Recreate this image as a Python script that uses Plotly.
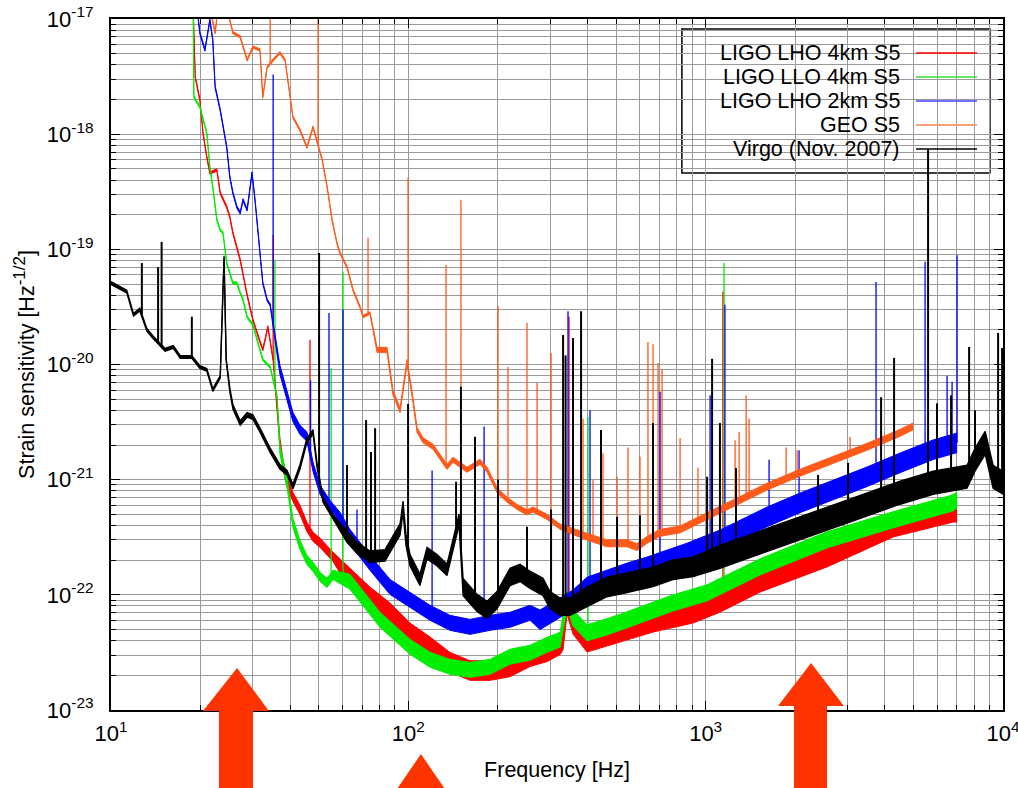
import numpy as np
import plotly.graph_objects as go

# ---------------- data ----------------
# Virgo (Nov. 2007): frequency [Hz], mid-line strain, half-width of noise band [decades]
virgo_f = [10.0, 11.3, 11.9, 12.5, 13.2, 13.8, 15.2, 16.2, 17.1, 18.7, 19.9, 21.0, 22.0, 23.3,
           24.0, 24.4, 25.1, 25.7, 27.2, 28.7, 30.0, 31.7, 34.3, 37.0, 39.1, 40.9, 43.2, 45.6,
           47.8, 49.3, 51.6, 55.8, 62.2, 67.2, 74.3, 83.5, 93.8, 96.0, 98.2, 101.3, 109.4, 115.6,
           124.9, 134.9, 141.3, 148.1, 152.8, 170.2, 184.0, 198.7, 219.8, 237.5, 256.6, 283.8,
           299.6, 323.9, 349.9, 399.1, 465.6, 544, 665, 776, 907, 1117, 1609, 2683, 4507, 5821,
           7569, 8051, 8710, 9263, 10000]
virgo_h = [5.1e-20, 4.3e-20, 2.7e-20, 3.0e-20, 2.0e-20, 1.74e-20, 1.34e-20, 1.42e-20, 1.16e-20,
           1.16e-20, 9.5e-21, 9.0e-21, 6.0e-21, 7.8e-21, 8.6e-20, 1.1e-20, 6.0e-21, 4.3e-21,
           3.1e-21, 3.65e-21, 3.5e-21, 2.7e-21, 1.8e-21, 1.29e-21, 1.15e-21, 8.7e-22, 1.29e-21,
           2.2e-21, 2.6e-21, 1.34e-21, 6.7e-22, 4.75e-22, 3.2e-22, 2.56e-22, 2.14e-22, 2.2e-22,
           3.7e-22, 5.8e-22, 3.0e-22, 2.0e-22, 1.35e-22, 2.3e-22, 2.0e-22, 1.65e-22, 2.7e-22,
           4.5e-22, 1.17e-22, 8.5e-23, 7.4e-23, 9.0e-23, 1.43e-22, 1.55e-22, 1.35e-22, 1.17e-22,
           9.0e-23, 7.9e-23, 7.9e-23, 9.6e-23, 1.17e-22, 1.27e-22, 1.43e-22, 1.65e-22, 1.75e-22,
           2.14e-22, 3.0e-22, 4.75e-22, 7.7e-22, 9.4e-22, 1.06e-21, 1.49e-21, 2.09e-21, 1.06e-21,
           9.4e-22]
virgo_noise = [0.012] * 14 + [0.01] * 2 + [0.02] * 16 + [0.05] * 14 + [0.075] * 11 + [0.085] * 6 + [0.1] * 10
virgo_line_f = [12.7, 14.4, 14.8, 18.7, 50.1, 62.2, 72.1, 74.9, 77.3, 99.8, 144.7, 150.3, 167.6,
                200.3, 250.7, 302, 331.5, 338, 358, 381, 444.6, 503.5, 601, 665, 1011, 1051, 1117,
                1265, 2388, 3013, 3890, 4302, 5598, 5998, 6689, 7691, 8051, 9628, 9930]
virgo_line_h = [7.6e-20, 7.0e-20, 1.16e-19, 2.6e-20, 9.3e-20, 1.34e-21, 3.3e-21, 1.74e-21, 2.8e-21,
                4.55e-21, 9.6e-22, 6.4e-21, 2.36e-21, 1.0e-21, 3.9e-22, 5.5e-22, 1.8e-20, 1.2e-20,
                1.7e-20, 2.9e-20, 2.7e-21, 4.75e-22, 4.9e-22, 3.1e-21, 1.06e-21, 1.12e-20, 3.1e-21,
                1.26e-21, 1.1e-21, 1.4e-21, 5.2e-21, 1.14e-20, 7.4e-19, 4.6e-21, 5.4e-21, 1.42e-20,
                4.0e-21, 1.88e-20, 1.39e-20]

# LIGO LHO 4km S5
lho4_f = [18.9, 19.2, 19.9, 20.4, 21.0, 21.5, 22.7, 23.3, 24.5, 25.1, 25.7, 27.2, 28.7, 30.0, 31.0,
          32.4, 33.7, 35.1, 37.0, 37.9, 39.1, 40.9, 43.2, 45.6, 47.8, 50.5, 55.8, 62.2, 74.3, 86.8,
          101.3, 118.3, 138.1, 161.3, 188.3, 219.8, 256.6, 292.7, 323.9, 331.5, 341.8, 358.0, 399.1,
          465.6, 665, 907, 1117, 1524, 2559, 4267, 6792, 7008]
lho4_h = [1.2e-17, 3.14e-18, 1.98e-18, 1.02e-18, 6.34e-19, 4.6e-19, 4.89e-19, 3.09e-19, 2.33e-19,
          1.91e-19, 1.39e-19, 8.1e-20, 4.0e-20, 2.44e-20, 1.88e-20, 1.34e-20, 2.12e-20, 1.1e-20,
          2.09e-21, 1.34e-21, 9.4e-22, 7.1e-22, 5.47e-22, 3.89e-22, 3.19e-22, 2.83e-22, 2.14e-22,
          1.49e-22, 9.6e-23, 6.98e-23, 4.68e-23, 3.54e-23, 2.6e-23, 2.2e-23, 2.2e-23, 2.37e-23,
          2.9e-23, 3.2e-23, 3.68e-23, 4.07e-23, 8.2e-23, 5.49e-23, 3.83e-23, 4.32e-23, 5.71e-23,
          6.84e-23, 8.5e-23, 1.27e-22, 2.1e-22, 3.82e-22, 5.15e-22, 5.15e-22]
lho4_noise = [0.01] * 18 + [0.04] * 9 + [0.085] * 13 + [0.08] * 12
lho4_line_f = [35.1, 46.7, 347.0, 1143]
lho4_line_h = [1.33e-19, 1.64e-20, 2.6e-20, 4.3e-20]

# LIGO LLO 4km S5
llo4_f = [18.9, 19.0, 19.9, 21.0, 21.5, 22.0, 22.7, 23.3, 23.8, 24.5, 25.7, 26.5, 27.2, 27.8, 28.7,
          30.0, 31.7, 32.4, 34.3, 36.2, 37.0, 39.1, 40.9, 43.2, 45.6, 47.8, 50.5, 53.3, 55.8, 63.6,
          80.3, 101.3, 118.3, 138.1, 161.3, 188.3, 219.8, 256.6, 292.7, 323.9, 341.8, 358.0, 399.1,
          465.6, 544, 665, 776, 1011, 1524, 2559, 4267, 6792, 7008]
llo4_h = [1.2e-17, 2.1e-18, 1.72e-18, 1.02e-18, 5.19e-19, 3.48e-19, 1.8e-19, 1.47e-19, 1.39e-19,
          7.6e-20, 5.1e-20, 5.1e-20, 4.19e-20, 3.64e-20, 2.59e-20, 2.21e-20, 1.34e-20, 1.1e-20,
          9.5e-21, 5.24e-21, 1.82e-21, 9.4e-22, 4.22e-22, 2.72e-22, 2.01e-22, 1.75e-22, 1.43e-22,
          1.27e-22, 1.49e-22, 1.3e-22, 6.07e-23, 3.54e-23, 2.73e-23, 2.37e-23, 2.23e-23, 2.37e-23,
          2.9e-23, 3.14e-23, 3.68e-23, 4.07e-23, 9.05e-23, 6.3e-23, 4.68e-23, 5.27e-23, 6.07e-23,
          7.4e-23, 8.5e-23, 1.04e-22, 1.75e-22, 3.0e-22, 4.48e-22, 6.29e-22, 6.68e-22]
llo4_noise = [0.01] * 20 + [0.04] * 9 + [0.065] * 11 + [0.07] * 13
llo4_line_f = [35.6, 55.0, 60.3, 402.0, 1153]
llo4_line_h = [8.1e-20, 9.3e-21, 6.4e-20, 3.5e-21, 7.6e-20]

# LIGO LHO 2km S5
lho2_f = [19.5, 19.9, 20.7, 21.5, 22.0, 22.4, 23.3, 23.8, 24.5, 25.1, 25.7, 26.5, 27.2, 27.8, 28.7,
          29.8, 30.5, 31.7, 32.4, 33.5, 34.3, 37.0, 39.1, 40.9, 43.2, 45.6, 47.8, 50.5, 54.5, 58.9,
          63.6, 74.3, 86.8, 101.3, 118.3, 138.1, 161.3, 188.3, 219.8, 256.6, 277.3, 306.7, 358,
          399.1, 465.6, 544, 635.3, 741.3, 865.9, 1117, 1609, 2078, 2683, 3491, 4507, 5821, 7008]
lho2_h = [1.2e-17, 7.56e-18, 5.38e-18, 9.8e-18, 6.57e-18, 2.57e-18, 1.62e-18, 1.15e-18, 7.74e-19,
          4.25e-19, 3.09e-19, 2.33e-19, 2.07e-19, 2.69e-19, 2.2e-19, 4.6e-19, 2.69e-19, 9.3e-20,
          5.1e-20, 3.64e-20, 3.29e-20, 8.97e-21, 5.24e-21, 3.51e-21, 2.71e-21, 2.36e-21, 1.29e-21,
          8.15e-22, 6.04e-22, 4.75e-22, 3.19e-22, 1.9e-22, 1.17e-22, 9.05e-23, 6.98e-23, 5.71e-23,
          5.27e-23, 5.71e-23, 6.07e-23, 6.98e-23, 6.07e-23, 7.1e-23, 9.05e-23, 1.17e-22, 1.35e-22,
          1.55e-22, 1.75e-22, 2.01e-22, 2.31e-22, 3.0e-22, 4.75e-22, 6.29e-22, 8.15e-22, 1.06e-21,
          1.4e-21, 1.82e-21, 2.09e-21]
lho2_noise = [0.01] * 21 + [0.04] * 9 + [0.065] * 10 + [0.085] * 17
lho2_line_f = [35.1, 46.9, 54.1, 60.3, 67.2, 120.2, 179.8, 344.4, 408.4, 702.4, 1035, 1161, 1634,
               2061, 3741, 5470, 6486, 6742, 7008]
lho2_line_h = [3.3e-18, 7.3e-21, 2.8e-20, 3.0e-20, 5.5e-22, 1.2e-21, 2.9e-21, 2.9e-20, 4.0e-21,
               5.8e-21, 5.4e-21, 3.3e-20, 1.49e-21, 1.8e-21, 5.2e-20, 7.8e-20, 8.0e-21, 7.1e-21,
               8.9e-20]

# GEO S5
geo_f = [21.5, 22.4, 22.9, 24.7, 25.1, 25.7, 27.2, 28.7, 30.0, 31.7, 32.4, 33.5, 35.1, 37.0, 38.5,
         40.0, 40.9, 43.2, 45.6, 47.8, 51.3, 53.3, 55.4, 57.5, 58.9, 62.2, 65.2, 68.8, 70.4, 74.3,
         78.5, 84.8, 88.8, 93.8, 99.0, 103.7, 107.0, 112.0, 121.1, 134.9, 141.3, 157.6, 174.2,
         184.0, 198.7, 214.8, 232.1, 250.7, 262.7, 292.7, 323.9, 399.1, 465.6, 544, 587.5, 635.3,
         702.4, 820.4, 957.1, 1236, 1609, 2078, 2683, 3491, 4507, 4985]
geo_h = [1.25e-17, 7.6e-18, 1.25e-17, 1.25e-17, 9.8e-18, 7.6e-18, 7.0e-18, 4.4e-18, 5.7e-18, 5.4e-18,
         2.1e-18, 3.8e-18, 4.4e-18, 5.1e-18, 4.4e-18, 2.0e-18, 1.41e-18, 1.09e-18, 7.7e-19, 1.15e-18,
         6.0e-19, 3.5e-19, 1.8e-19, 1.14e-19, 9.3e-20, 7.0e-20, 4.4e-20, 3.16e-20, 2.6e-20, 2.8e-20,
         1.34e-20, 1.34e-20, 5.7e-21, 4.0e-21, 1.05e-20, 4.9e-21, 2.7e-21, 2.2e-21, 1.93e-21,
         1.29e-21, 1.49e-21, 1.22e-21, 1.43e-21, 1.22e-21, 8.1e-22, 6.7e-22, 5.8e-22, 5.2e-22,
         5.5e-22, 4.75e-22, 3.9e-22, 3.2e-22, 2.8e-22, 2.8e-22, 2.6e-22, 3.0e-22, 3.45e-22, 3.7e-22,
         4.5e-22, 6.3e-22, 8.7e-22, 1.15e-21, 1.49e-21, 1.93e-21, 2.55e-21, 2.9e-21]
geo_noise = [0.01] * 30 + [0.022] * 21 + [0.03] * 15
geo_line_f = [34.3, 49.7, 73.2, 99.8, 133.9, 150.3, 200.3, 216.4, 250.7, 271.0, 302.0, 386.9, 417.9,
              451.6, 503.5, 548.2, 601.2, 639.7, 665.3, 691.8, 713.4, 820.4, 941.8, 1256, 1296,
              1368, 1400, 1864, 2030, 3060]
geo_line_h = [1.3e-17, 1.3e-17, 1.26e-19, 4.2e-19, 7.3e-20, 2.7e-19, 3.2e-20, 9.5e-21, 2.3e-20,
              6.9e-21, 1.26e-20, 3.4e-21, 1.0e-21, 1.7e-21, 1.06e-21, 1.9e-21, 1.58e-21, 1.57e-20,
              1.5e-20, 1.03e-20, 9.0e-21, 2.3e-21, 1.27e-21, 2.2e-21, 2.6e-21, 5.4e-21, 3.4e-21,
              1.9e-21, 1.8e-21, 2.36e-21]

series_names = ["LIGO LHO 4km S5", "LIGO LLO 4km S5", "LIGO LHO 2km S5", "GEO S5", "Virgo (Nov. 2007)"]
x_ticks = [10, 100, 1000, 10000]
x_tick_text = ["10<sup>1</sup>", "10<sup>2</sup>", "10<sup>3</sup>", "10<sup>4</sup>"]
y_ticks = [1e-23, 1e-22, 1e-21, 1e-20, 1e-19, 1e-18, 1e-17]
y_tick_text = ["10<sup>-23</sup>", "10<sup>-22</sup>", "10<sup>-21</sup>", "10<sup>-20</sup>",
               "10<sup>-19</sup>", "10<sup>-18</sup>", "10<sup>-17</sup>"]

# ---------------- styling ----------------
colors = ["#ff0000", "#00ee00", "#0000ff", "#ff5a1a", "#000000"]
legend_colors = ["#ff0000", "#33dd33", "#4444ff", "#f8a07c", "#000000"]
FONT = "Liberation Sans, Arial, Helvetica, sans-serif"


def band(f, h, noise, color, lw):
    f = np.asarray(f, float)
    h = np.asarray(h, float)
    w = 10.0 ** np.asarray(noise, float)
    assert len(f) == len(h) == len(w)
    top = go.Scatter(x=f, y=h * w, mode="lines", line=dict(color=color, width=lw),
                     hoverinfo="skip", showlegend=False)
    bot = go.Scatter(x=f, y=h / w, mode="lines", line=dict(color=color, width=lw),
                     fill="tonexty", fillcolor=color, hoverinfo="skip", showlegend=False)
    return [top, bot]


def lines(f, h, lf, lh, color, lw):
    logf = np.log10(np.asarray(f, float))
    logh = np.log10(np.asarray(h, float))
    xs, ys = [], []
    for x, t in zip(lf, lh, strict=True):
        base = 10 ** np.interp(np.log10(x), logf, logh)
        xs += [x, x, None]
        ys += [base, t, None]
    return go.Scatter(x=xs, y=ys, mode="lines", line=dict(color=color, width=lw),
                      hoverinfo="skip", showlegend=False)


fig = go.Figure()
all_series = [
    (lho4_f, lho4_h, lho4_noise, lho4_line_f, lho4_line_h, 1.0, 1.3),
    (llo4_f, llo4_h, llo4_noise, llo4_line_f, llo4_line_h, 1.0, 1.3),
    (lho2_f, lho2_h, lho2_noise, lho2_line_f, lho2_line_h, 1.0, 1.3),
    (geo_f, geo_h, geo_noise, geo_line_f, geo_line_h, 1.0, 1.3),
    (virgo_f, virgo_h, virgo_noise, virgo_line_f, virgo_line_h, 1.3, 2.0),
]
for (f, h, nz, lf, lh, lw, slw), c in zip(all_series, colors):
    for t in band(f, h, nz, c, lw):
        fig.add_trace(t)
    fig.add_trace(lines(f, h, lf, lh, c, slw))

# ---------------- axes ----------------
grid_c = "#9a9a9a"
x_minor = [m * 10.0 ** k for k in range(1, 4) for m in range(2, 10)]
y_minor = [m * 10.0 ** k for k in range(-23, -17) for m in range(2, 10)]

fig.update_xaxes(
    type="log", range=[1, 4], tickmode="array", tickvals=x_ticks, ticktext=x_tick_text,
    automargin=False, ticklabeloverflow="allow", ticklabelstandoff=3,
    ticks="inside", ticklen=9, tickwidth=1.2, tickcolor="black",
    showline=True, linecolor="black", linewidth=2, mirror="allticks",
    showgrid=True, gridcolor=grid_c, gridwidth=1, zeroline=False,
    minor=dict(tickmode="array", tickvals=x_minor, ticks="inside", ticklen=5, tickwidth=1,
               tickcolor="black", showgrid=True, gridcolor=grid_c, gridwidth=1),
    tickfont=dict(family=FONT, size=22, color="black"),
    title=dict(text="Frequency [Hz]", font=dict(family=FONT, size=21.5, color="black"), standoff=17),
)
fig.update_yaxes(
    type="log", range=[-23, -17], tickmode="array", tickvals=y_ticks, ticktext=y_tick_text,
    automargin=False, ticklabeloverflow="allow", ticklabelstandoff=11,
    ticks="inside", ticklen=9, tickwidth=1.2, tickcolor="black",
    showline=True, linecolor="black", linewidth=2, mirror="allticks",
    showgrid=True, gridcolor=grid_c, gridwidth=1, zeroline=False,
    minor=dict(tickmode="array", tickvals=y_minor, ticks="inside", ticklen=5, tickwidth=1,
               tickcolor="black", showgrid=True, gridcolor=grid_c, gridwidth=1),
    tickfont=dict(family=FONT, size=22, color="black"),
    title=dict(text="Strain sensitivity [Hz<sup><span style='font-size:17px'>-1/2</span></sup>]",
               font=dict(family=FONT, size=21.5, color="black"), standoff=6),
)

# ---------------- legend (drawn by hand: text then line sample) ----------------
shapes = [dict(type="rect", xref="paper", yref="paper", x0=0.640, x1=0.9854, y0=0.777, y1=0.9855,
               fillcolor="white", line=dict(color="black", width=1.5), layer="between")]
annotations = []
rows = [0.9508, 0.9160, 0.8813, 0.8466, 0.8119]
for name, lc, yy in zip(series_names, legend_colors, rows):
    annotations.append(dict(xref="paper", yref="paper", x=0.8868, y=yy, xanchor="right", yanchor="middle",
                            text=name, showarrow=False, font=dict(family=FONT, size=21.5, color="black")))
    shapes.append(dict(type="line", xref="paper", yref="paper", x0=0.9025, x1=0.9709, y0=yy, y1=yy,
                       line=dict(color=lc, width=2.2 if lc == "#f8a07c" else 1.6), layer="above"))

# ---------------- red arrows below the axis ----------------
arrow_c = "#ff3300"
shapes += [
    dict(type="path", xref="paper", yref="paper", layer="above", fillcolor=arrow_c, line=dict(width=0),
         path="M 0.1211,-0.13 L 0.1211,-0.0014 L 0.1031,-0.0014 L 0.1413,0.0608 L 0.1771,-0.0014 "
              "L 0.1592,-0.0014 L 0.1592,-0.13 Z"),
    dict(type="path", xref="paper", yref="paper", layer="above", fillcolor=arrow_c, line=dict(width=0),
         path="M 0.3475,-0.0637 L 0.3150,-0.125 L 0.3800,-0.125 Z"),
    dict(type="path", xref="paper", yref="paper", layer="above", fillcolor=arrow_c, line=dict(width=0),
         path="M 0.7657,-0.13 L 0.7657,0.0058 L 0.7478,0.0058 L 0.7848,0.0680 L 0.8217,0.0058 "
              "L 0.8027,0.0058 L 0.8027,-0.13 Z"),
]

fig.update_layout(
    width=1018, height=788,
    margin=dict(l=111, r=15, t=19, b=78),
    paper_bgcolor="white", plot_bgcolor="white",
    showlegend=False,
    shapes=shapes, annotations=annotations,
    font=dict(family=FONT, color="black"),
)

# remove the default 8px page margin so the figure fills the window exactly
fig.write_html("out.html", config={"displayModeBar": False},
               post_script="document.body.style.margin='0px';")
